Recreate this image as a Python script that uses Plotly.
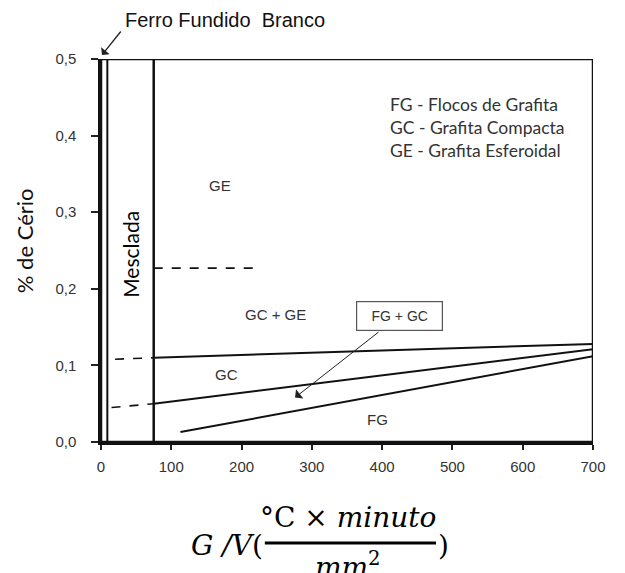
import plotly.graph_objects as go

# Axes
x_ticks = [0, 100, 200, 300, 400, 500, 600, 700]
y_ticks = [0.0, 0.1, 0.2, 0.3, 0.4, 0.5]
y_tick_labels = ["0,0", "0,1", "0,2", "0,3", "0,4", "0,5"]

# Region boundaries (G/V, %Ce)
white_iron_x = [0, 9]
mottled_x = 75
ge_dash_x = [75, 220]
ge_dash_y = [0.227, 0.227]

upper_dash_x = [20, 75]
upper_dash_y = [0.108, 0.110]
upper_x = [75, 700]
upper_y = [0.110, 0.128]

middle_dash_x = [15, 75]
middle_dash_y = [0.045, 0.050]
middle_x = [75, 700]
middle_y = [0.050, 0.121]

lower_x = [113, 700]
lower_y = [0.013, 0.112]

region_labels = ["GE", "GC + GE", "GC", "FG"]
region_x = [170, 248, 178, 394]
region_y = [0.335, 0.166, 0.088, 0.029]

legend_lines = ["FG - Flocos de Grafita", "GC - Grafita Compacta", "GE - Grafita Esferoidal"]

fig = go.Figure()

def line(xs, ys, dash="solid", width=2):
    fig.add_trace(go.Scatter(x=xs, y=ys, mode="lines",
                             line=dict(color="#111111", width=width, dash=dash),
                             showlegend=False, hoverinfo="skip", cliponaxis=False))

line(upper_dash_x, upper_dash_y, dash="dash", width=1.6)
line(upper_x, upper_y, width=2)
line(middle_dash_x, middle_dash_y, dash="dash", width=1.6)
line(middle_x, middle_y, width=2)
line(lower_x, lower_y, width=2)
line(ge_dash_x, ge_dash_y, dash="dash", width=1.8)

# frame and vertical boundaries
fig.add_shape(type="rect", x0=0, x1=700, y0=0, y1=0.5, xref="x", yref="y",
              line=dict(color="#111111", width=2.5))
fig.add_shape(type="line", x0=white_iron_x[1], x1=white_iron_x[1], y0=0, y1=0.5,
              xref="x", yref="y", line=dict(color="#111111", width=2))
fig.add_shape(type="line", x0=mottled_x, x1=mottled_x, y0=0, y1=0.5,
              xref="x", yref="y", line=dict(color="#111111", width=2.5))

for t, xx, yy in zip(region_labels, region_x, region_y):
    fig.add_annotation(x=xx, y=yy, text=t, showarrow=False,
                       font=dict(family="Liberation Sans, Arial", size=15, color="#333333"))

fig.add_annotation(x=42, y=0.245, text="Mesclada", textangle=-90, showarrow=False,
                   font=dict(family="Lato", size=21, color="#000000"))

# FG + GC box with arrow
fig.add_annotation(x=276, y=0.058, ax=397, ay=0.145, axref="x", ayref="y",
                   text="", showarrow=True, arrowhead=1, arrowsize=2,
                   arrowwidth=1, arrowcolor="#222222")
fig.add_annotation(x=424, y=0.165, text="FG + GC", showarrow=False,
                   font=dict(family="Liberation Sans, Arial", size=14, color="#333333"),
                   bordercolor="#555555", borderwidth=1.2, borderpad=6,
                   bgcolor="white", width=73, height=16)

# legend text
fig.add_annotation(x=0.583, y=0.82, xref="paper", yref="paper", xanchor="left", yanchor="middle",
                   align="left", showarrow=False, text="<br>".join(legend_lines),
                   font=dict(family="Lato", size=17.5, color="#333333"))

# Ferro Fundido Branco
fig.add_annotation(x=0.002, y=1.0104, xref="paper", yref="paper", ax=20, ay=-25,
                   axref="pixel", ayref="pixel",
                   text="", showarrow=True, arrowhead=1, arrowsize=1.4,
                   arrowwidth=1.3, arrowcolor="#222222")
fig.add_annotation(x=0.0, y=1.0, xref="paper", yref="paper", xanchor="left", yanchor="middle",
                   xshift=22, yshift=39, text="Ferro Fundido  Branco", showarrow=False,
                   font=dict(family="Liberation Sans, Arial", size=20, color="#111111"))

# y title
fig.add_annotation(x=-0.154, y=0.525, xref="paper", yref="paper", text="% de Cério",
                   textangle=-90, showarrow=False, xanchor="center", yanchor="middle",
                   font=dict(family="Lato", size=22, color="#111111"))

# x title: G/V(°C × minuto / mm²)
serif = "DejaVu Serif, Liberation Serif"
fig.add_annotation(x=0.333, y=-0.269, xref="paper", yref="paper", text="<i>G /V</i>(",
                   showarrow=False, xanchor="right", yanchor="middle",
                   font=dict(family=serif, size=28, color="#000"))
fig.add_annotation(x=0.503, y=-0.196, xref="paper", yref="paper", text="°C × <i>minuto</i>",
                   showarrow=False, yanchor="middle", font=dict(family=serif, size=28, color="#000"))
fig.add_annotation(x=0.503, y=-0.322, xref="paper", yref="paper", text="<i>mm</i><sup>2</sup>",
                   showarrow=False, yanchor="middle", font=dict(family=serif, size=28, color="#000"))
fig.add_annotation(x=0.681, y=-0.269, xref="paper", yref="paper", text=")",
                   showarrow=False, xanchor="left", yanchor="middle",
                   font=dict(family=serif, size=28, color="#000"))
fig.add_shape(type="line", xref="paper", yref="paper", x0=0.333, x1=0.681, y0=-0.264, y1=-0.264,
              line=dict(color="#000", width=3))

fig.update_xaxes(range=[0, 700], tickvals=x_ticks, showgrid=False, zeroline=False,
                 ticks="outside", ticklen=5, tickwidth=1.5, tickcolor="#222",
                 showline=True, linecolor="#111", linewidth=2.5, ticklabelstandoff=4,
                 tickfont=dict(family="Liberation Sans, Arial", size=15, color="#333"))
fig.update_yaxes(range=[0, 0.5], tickvals=y_ticks, ticktext=y_tick_labels, showgrid=False,
                 zeroline=False, ticks="outside", ticklen=7, tickwidth=1.5, tickcolor="#222",
                 showline=True, linecolor="#111", linewidth=2.5, ticklabelstandoff=12,
                 tickfont=dict(family="Liberation Sans, Arial", size=15, color="#333"))

fig.update_layout(width=625, height=573, margin=dict(l=101, r=32, t=59, b=131),
                  plot_bgcolor="white", paper_bgcolor="white")

fig.write_html("out.html")
